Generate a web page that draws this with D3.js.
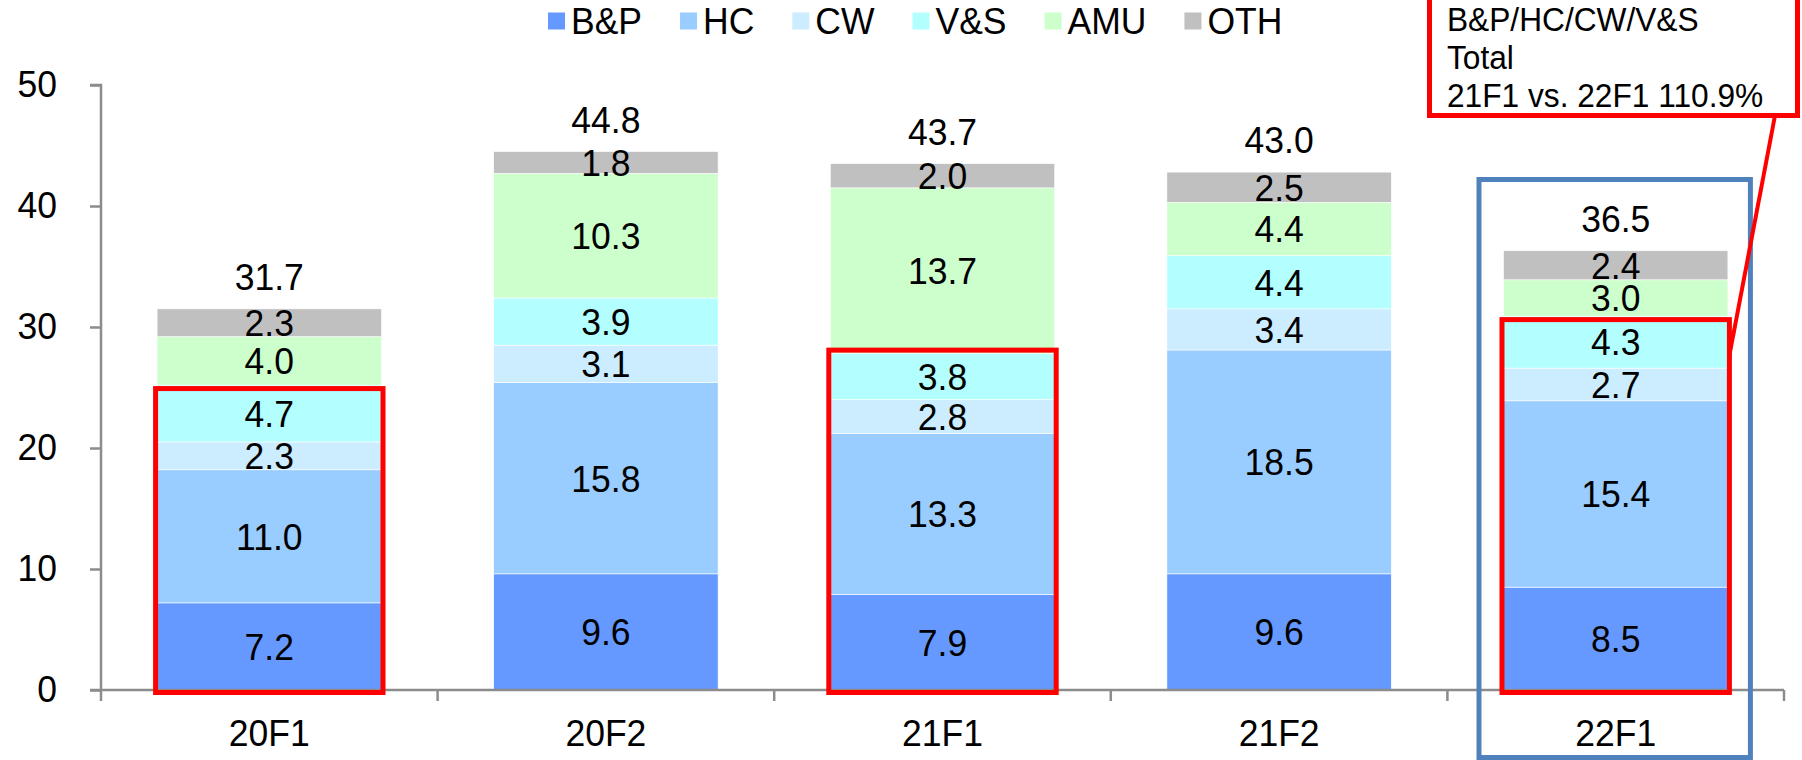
<!DOCTYPE html>
<html><head><meta charset="utf-8">
<script src="https://cdn.jsdelivr.net/npm/d3@7"></script>
<style>
html,body{margin:0;padding:0;background:#fff;}
svg{display:block;font-family:"Liberation Sans",Arial,sans-serif;}
</style></head>
<body>
<svg id="chart" width="1802" height="760"></svg>
<script>
const categories = ["20F1","20F2","21F1","21F2","22F1"];
const seriesNames = ["B&P","HC","CW","V&S","AMU","OTH"];
const seriesColors = ["#6699ff","#99ccff","#ccecff","#b3ffff","#ccffcc","#c0c0c0"];
const bpValues  = [7.2, 9.6, 7.9, 9.6, 8.5];
const hcValues  = [11.0, 15.8, 13.3, 18.5, 15.4];
const cwValues  = [2.3, 3.1, 2.8, 3.4, 2.7];
const vsValues  = [4.7, 3.9, 3.8, 4.4, 4.3];
const amuValues = [4.0, 10.3, 13.7, 4.4, 3.0];
const othValues = [2.3, 1.8, 2.0, 2.5, 2.4];
const totalLabels = ["31.7","44.8","43.7","43.0","36.5"];
const yTicks = [0,10,20,30,40,50];
const highlighted = ["20F1","21F1","22F1"];
const calloutLines = ["B&P/HC/CW/V&S","Total","21F1 vs. 22F1 110.9%"];

const svg = d3.select("#chart");
const pLeft = 101, pRight = 1784, pTop = 85, pBottom = 690;

const x = d3.scaleBand().domain(categories).range([pLeft, pRight]).paddingInner(1/3).paddingOuter(1/6);
const xb = d3.scaleBand().domain(categories).range([pLeft, pRight]).padding(0);
const y = d3.scaleLinear().domain([0,50]).range([pBottom, pTop]);

const rows = categories.map((c,i)=>({cat:c, "B&P":bpValues[i], "HC":hcValues[i], "CW":cwValues[i], "V&S":vsValues[i], "AMU":amuValues[i], "OTH":othValues[i]}));
const stackData = d3.stack().keys(seriesNames)(rows);

const FS = 37;
const SX = 0.96; // slight horizontal condensing like the reference rendering

function addText(sel, cx, cy, size, anchor) {
  return sel.attr("transform", `translate(${cx},${cy}) scale(${SX},1)`)
    .attr("x", 0).attr("y", 0).attr("font-size", size).attr("text-anchor", anchor || "middle").attr("fill", "#000");
}

// bars
stackData.forEach((layer, li) => {
  svg.append("g").selectAll("rect").data(layer).enter().append("rect")
    .attr("x", d => x(d.data.cat))
    .attr("width", x.bandwidth())
    .attr("y", d => y(d[1]))
    .attr("height", d => y(d[0]) - y(d[1]))
    .attr("fill", seriesColors[li])
    .attr("stroke", "#ffffff").attr("stroke-width", 0.6);
});
stackData.forEach((layer, li) => {
  svg.append("g").selectAll("text").data(layer).enter().append("text")
    .each(function(d){
      addText(d3.select(this), x(d.data.cat) + x.bandwidth()/2, (y(d[0]) + y(d[1]))/2 + FS*0.36, FS);
    })
    .text(d => (d[1]-d[0]).toFixed(1));
});

// totals
svg.append("g").selectAll("text").data(categories).enter().append("text")
  .each(function(d,i){
    addText(d3.select(this), x(d) + x.bandwidth()/2, y(stackData[stackData.length-1][i][1]) - 32 + FS*0.36, FS);
  })
  .text((d,i) => totalLabels[i]);

// axes
const axisColor = "#8c8c8c";
const ya = svg.append("g").attr("transform", `translate(${pLeft},0)`)
  .call(d3.axisLeft(y).tickValues(yTicks).tickSize(11).tickPadding(33).tickFormat(d3.format("d")));
ya.select(".domain").attr("stroke", axisColor).attr("stroke-width", 2.5).attr("d", `M-11,${pTop}H0V${pBottom}`);
ya.selectAll(".tick line").attr("stroke", axisColor).attr("stroke-width", 2.5);
ya.selectAll(".tick text").attr("font-size", FS).attr("fill","#000").attr("font-family","Liberation Sans, Arial, sans-serif")
  .attr("transform", `translate(-44,0) scale(${SX},1)`).attr("x", 0);

const xa = svg.append("g").attr("transform", `translate(0,${pBottom})`);
xa.append("line").attr("x1", pLeft - 11).attr("x2", pRight).attr("y1",0).attr("y2",0)
  .attr("stroke", axisColor).attr("stroke-width", 2.5);
const boundaries = categories.map(c => xb(c)).concat([pRight]);
xa.selectAll("line.tk").data(boundaries).enter().append("line")
  .attr("class","tk")
  .attr("x1", d=>d).attr("x2", d=>d).attr("y1",0).attr("y2",11)
  .attr("stroke", axisColor).attr("stroke-width", 2.5);
xa.selectAll("text").data(categories).enter().append("text")
  .each(function(d){ addText(d3.select(this), x(d) + x.bandwidth()/2, 56, FS); })
  .text(d=>d);

// red highlight boxes
const boxTopShift = {"20F1": 3.5, "21F1": -3.5, "22F1": 3.5};
highlighted.forEach(c => {
  const i = categories.indexOf(c);
  const topV = stackData[3][i][1];
  const ty = y(topV) + boxTopShift[c];
  svg.append("rect")
    .attr("x", x(c) - 1.5).attr("width", x.bandwidth() + 3)
    .attr("y", ty).attr("height", pBottom + 2.5 - ty)
    .attr("fill","none").attr("stroke","#ff0000").attr("stroke-width",5);
});

// blue box around last category
const lastC = categories[4];
svg.append("rect")
  .attr("x", x(lastC) - 24.5).attr("width", x.bandwidth() + 47)
  .attr("y", 179.5).attr("height", 578)
  .attr("fill","none").attr("stroke","#4f81bd").attr("stroke-width",5);

// callout
const cb = {x1:1429.5, x2:1797.5, y1:-10, y2:115.5};
svg.append("line").attr("x1", 1775).attr("y1", cb.y2).attr("x2", x(lastC)+x.bandwidth()+1).attr("y2", 358)
  .attr("stroke","#ff0000").attr("stroke-width",4);
svg.append("rect").attr("x", cb.x1).attr("y", cb.y1).attr("width", cb.x2-cb.x1).attr("height", cb.y2-cb.y1)
  .attr("fill","#fff").attr("stroke","#ff0000").attr("stroke-width",5);
svg.append("g").selectAll("text").data(calloutLines).enter().append("text")
  .each(function(d,i){ addText(d3.select(this), 1447, 31 + i*38, 33, "start"); })
  .text(d=>d);

// legend
const lg = svg.append("g");
const LFS = 37, sq = 17;
let lx = 548;
seriesNames.forEach((n,i) => {
  lg.append("rect").attr("x", lx).attr("y", 21 - sq/2).attr("width", sq).attr("height", sq).attr("fill", seriesColors[i]);
  const t = lg.append("text");
  addText(t, lx + sq + 6, 21 + LFS*0.36, LFS, "start").text(n);
  lx += sq + 6 + t.node().getComputedTextLength()*SX + 38;
});
</script>
</body></html>
